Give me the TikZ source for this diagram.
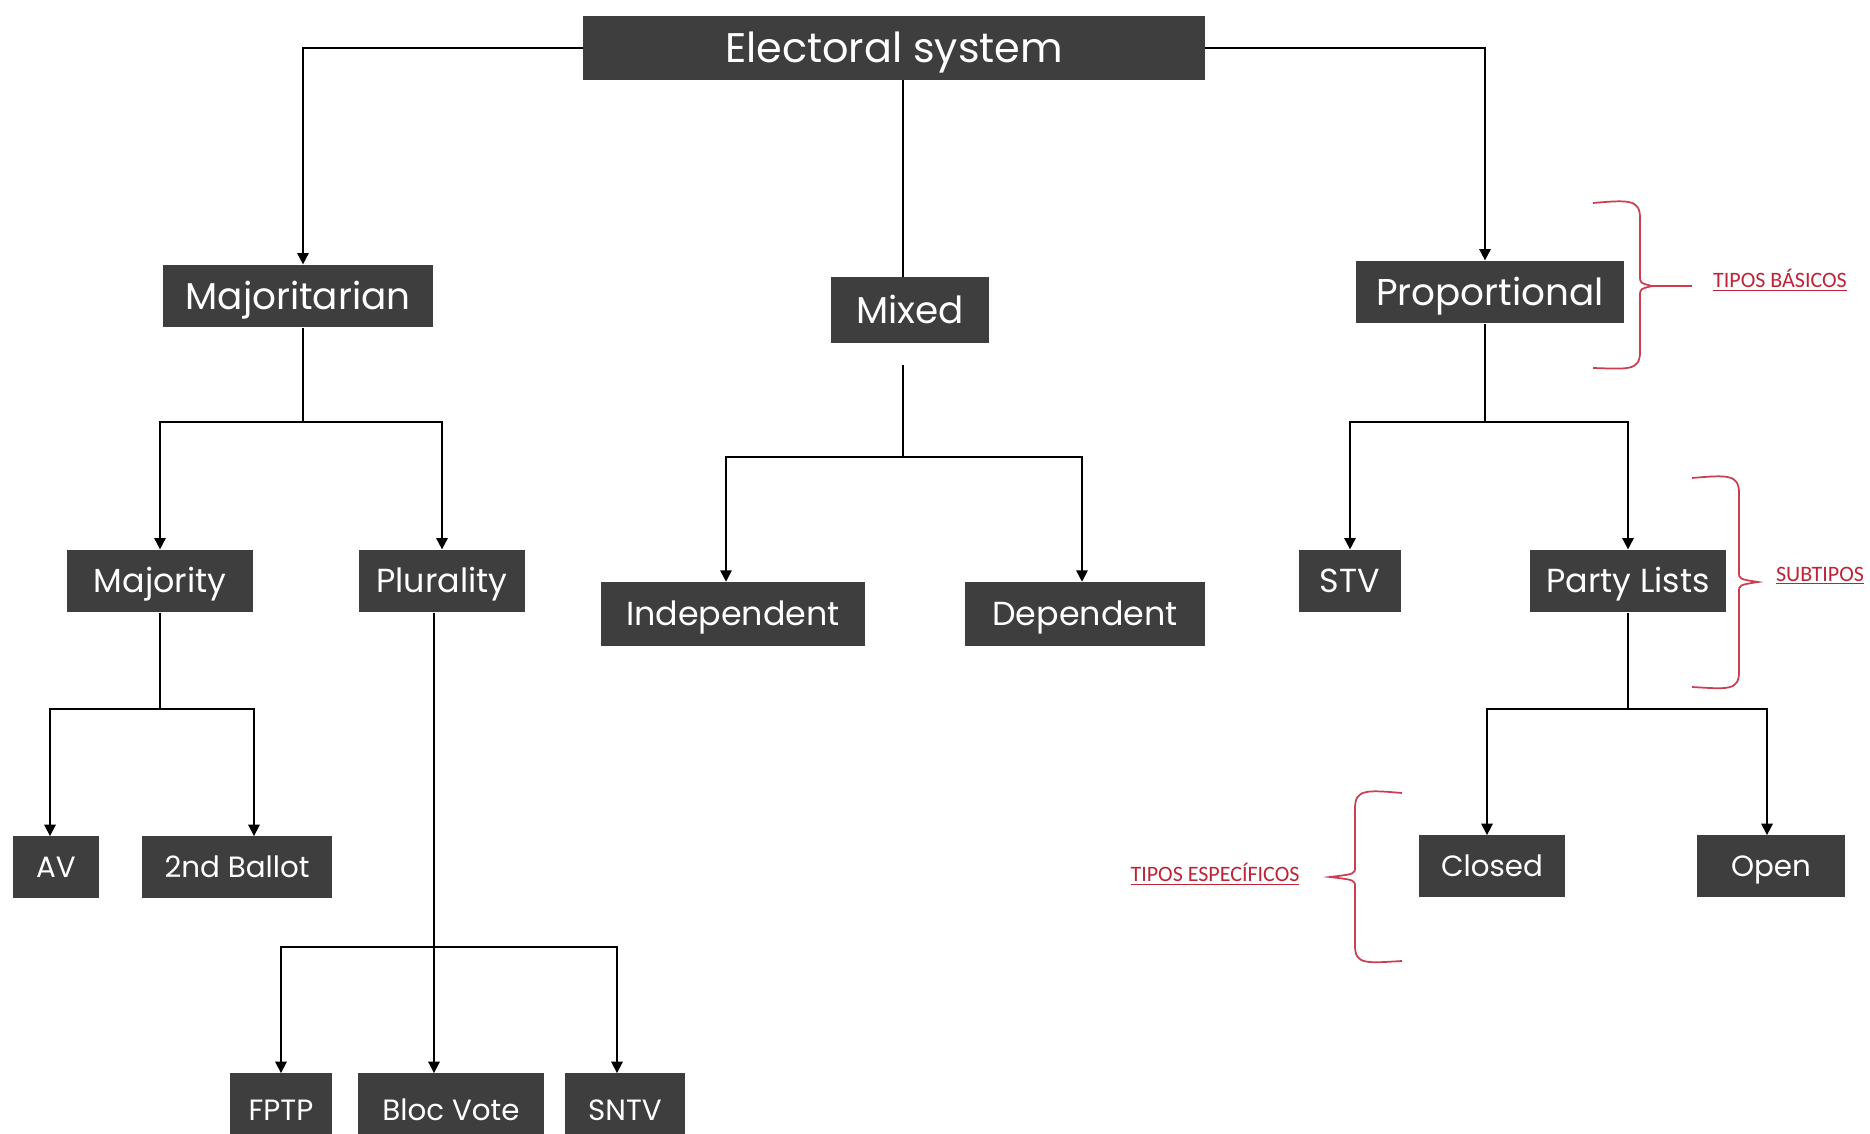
\documentclass[tikz,border=0pt]{standalone}
\usepackage{fontspec}
\setmainfont{Poppins}
\newfontfamily\notefont{Carlito}
\usepackage{tikz}
\usetikzlibrary{arrows.meta,positioning,calc}
\definecolor{boxgray}{RGB}{62,62,62}
\definecolor{bracered}{RGB}{205,60,80}
\definecolor{notered}{RGB}{190,35,55}

\begin{document}
\begin{tikzpicture}[x=0.75pt, y=-0.75pt, >={Triangle[length=8.5pt,width=8.5pt]},
  box/.style={fill=boxgray, text=white, inner sep=0pt, minimum height=47pt, text depth=0pt},
  top/.style={box, text height=21.7pt, font=\fontsize{31}{36}\selectfont},
  lvlone/.style={box, text height=19.6pt, font=\fontsize{28}{32}\selectfont},
  lvltwo/.style={box, text height=17.5pt, font=\fontsize{25}{30}\selectfont},
  lvlthree/.style={box, text height=15.4pt, minimum height=46pt, font=\fontsize{22}{26}\selectfont},
  link/.style={line width=1.35pt},
  curly/.style={bracered, line width=1.3pt},
  note/.style={notered, inner sep=0pt, font=\notefont\fontsize{16.5}{18}\selectfont}]
  \useasboundingbox (0,0) rectangle (1870,1134);

  % Root and basic types
  \node[top, minimum width=466pt, minimum height=48pt] (elect) at (894,48) {Electoral system};
  \node[lvlone, minimum width=202pt] (major) at (298,296) {Majoritarian};
  \node[lvlone, minimum width=119pt, minimum height=49pt] (mixed) at (910,310) {Mixed};
  \node[lvlone, minimum width=201pt] (prop) at (1490,292) {Proportional};

  % Subtypes
  \node[lvltwo, minimum width=139pt] (majority) at (160,581) {Majority};
  \node[lvltwo, minimum width=125pt] (plural) at (442,581) {Plurality};
  \node[lvltwo, minimum width=198pt, minimum height=48pt] (indep) at (733,614) {Independent};
  \node[lvltwo, minimum width=180pt, minimum height=48pt] (dep) at (1085,614) {Dependent};
  \node[lvltwo, minimum width=77pt] (stv) at (1350,581) {STV};
  \node[lvltwo, minimum width=147pt] (party) at (1628,581) {Party Lists};

  % Specific types
  \node[lvlthree, minimum width=64pt] (av) at (56,867) {AV};
  \node[lvlthree, minimum width=142pt] (ballot) at (237,867) {2nd Ballot};
  \node[lvlthree, minimum width=110pt] (closed) at (1492,866) {Closed};
  \node[lvlthree, minimum width=111pt] (open) at (1771,866) {Open};
  \node[lvlthree, minimum width=76pt, minimum height=55pt] (fptp) at (281,1110) {FPTP};
  \node[lvlthree, minimum width=139pt, minimum height=55pt] (bloc) at (451,1110) {Bloc Vote};
  \node[lvlthree, minimum width=90pt, minimum height=55pt] (sntv) at (625,1110) {SNTV};

  % Connectors
  \draw[link,->] (elect.west) -| ($(major.north)+(5,0)$);
  \draw[link,->] (elect.east) -| ($(prop.north)+(-5,0)$);
  \coordinate (mixtop) at ($(mixed.north)+(-7,0)$);
  \draw[link] (mixtop |- elect.south) -- (mixtop);

  \draw[link] ($(major.south)+(5,0)$) -- ++(0,94) coordinate (jmaj);
  \draw[link,->] (jmaj) -| (majority.north);
  \draw[link,->] (jmaj) -| (plural.north);

  \draw[link] ($(mixed.south)+(-7,22)$) -- ++(0,92) coordinate (jmix);
  \draw[link,->] (jmix) -| ($(indep.north)+(-7,0)$);
  \draw[link,->] (jmix) -| ($(dep.north)+(-3,0)$);

  \draw[link] ($(prop.south)+(-5,0)$) -- ++(0,98) coordinate (jpro);
  \draw[link,->] (jpro) -| (stv.north);
  \draw[link,->] (jpro) -| (party.north);

  \draw[link] (majority.south) -- ++(0,96) coordinate (jmay);
  \draw[link,->] (jmay) -| ($(av.north)+(-6,0)$);
  \draw[link,->] (jmay) -| ($(ballot.north)+(17,0)$);

  \draw[link] ($(plural.south)+(-8,0)$) -- ++(0,334) coordinate (jplu);
  \draw[link,->] (jplu) -- (jplu |- bloc.north);
  \draw[link,->] (jplu) -| (fptp.north);
  \draw[link,->] (jplu) -| ($(sntv.north)+(-8,0)$);

  \draw[link] (party.south) -- ++(0,96) coordinate (jpar);
  \draw[link,->] (jpar) -| ($(closed.north)+(-5,0)$);
  \draw[link,->] (jpar) -| ($(open.north)+(-4,0)$);

  % Braces and notes
  \draw[curly] (1593,203) .. controls (1628,200) and (1640,199) .. (1640,218) -- (1640,276)
    .. controls (1640,283) .. (1652,286) coordinate (tipa) .. controls (1640,289) .. (1640,296)
    -- (1640,352) .. controls (1640,371) and (1628,369) .. (1593,368);
  \draw[curly] (tipa) -- ++(40,0);
  \node[note] (basic) at (1780,280) {\underline{TIPOS BÁSICOS}};

  \draw[curly] (1692,478) .. controls (1727,475) and (1739,474) .. (1739,493) -- (1739,572)
    .. controls (1739,579) .. (1758,582) .. controls (1739,585) .. (1739,592)
    -- (1739,672) .. controls (1739,691) and (1727,689) .. (1692,687);
  \node[note] (sub) at (1820,576) {\underline{SUBTIPOS}};

  \draw[curly] (1402,793) .. controls (1367,790) and (1355,789) .. (1355,808) -- (1355,867)
    .. controls (1355,874) .. (1330,877) .. controls (1355,880) .. (1355,887)
    -- (1355,946) .. controls (1355,965) and (1367,963) .. (1402,961);
  \node[note] (spec) at (1215,874) {\underline{TIPOS ESPECÍFICOS}};
\end{tikzpicture}
\end{document}
